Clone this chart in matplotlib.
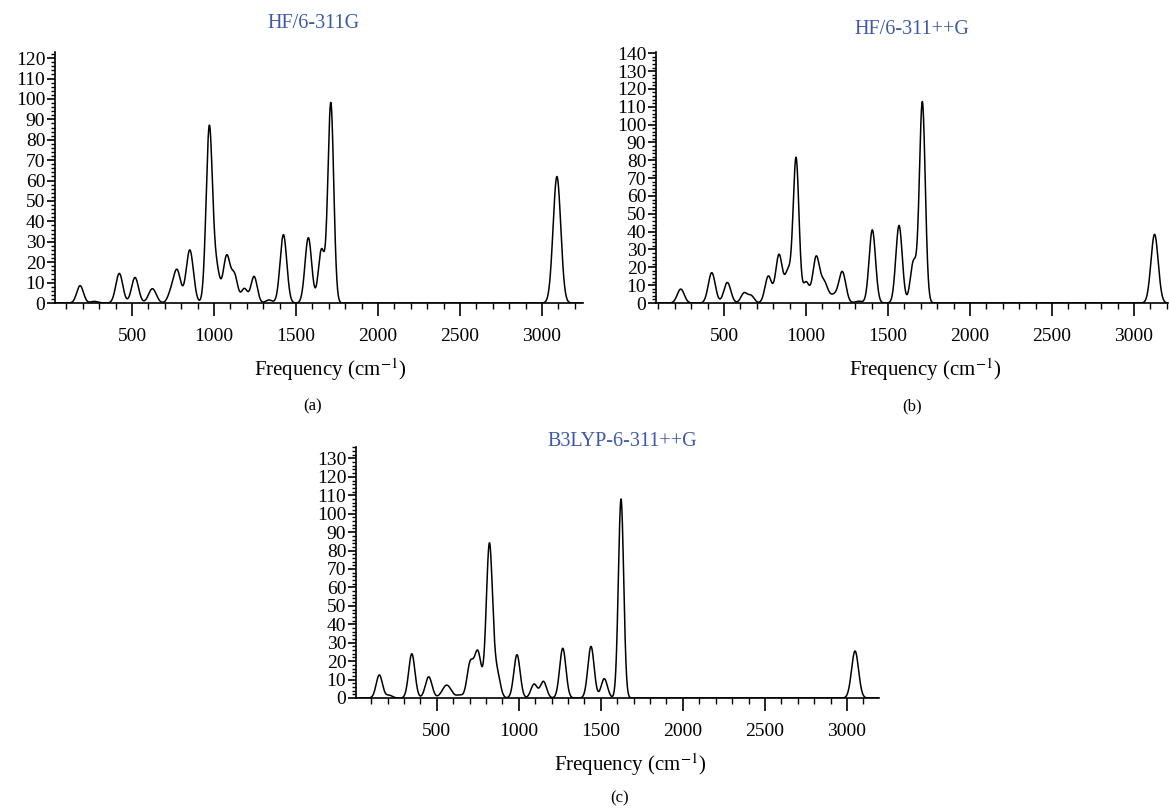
import numpy as np
import matplotlib
matplotlib.use("Agg")
import matplotlib.pyplot as plt
from matplotlib.ticker import MultipleLocator

plt.rcParams['font.family'] = ['Liberation Serif', 'DejaVu Serif']
plt.rcParams['mathtext.fontset'] = 'stix'

# peak positions (cm-1), peak heights and widths (FWHM)
freq_a = [183, 270, 422, 518, 624, 735, 774, 852, 971, 1015, 1077, 1125, 1185, 1244, 1335, 1423, 1575, 1655, 1712, 3091]
inten_a = [8.5, 0.8, 14.5, 12.5, 7, 4, 16, 26, 86, 16, 23, 13, 7, 13, 1.5, 33.5, 32, 26, 98, 62]
width_a = [48, 50, 50, 50, 55, 45, 52, 52, 45, 45, 50, 45, 45, 45, 45, 48, 48, 45, 42, 55]

freq_b = [236, 425, 520, 622, 665, 770, 835, 890, 939, 1000, 1061, 1110, 1170, 1221, 1320, 1404, 1567, 1655, 1709, 3125]
inten_b = [7.8, 17, 11.5, 5.5, 4, 15, 27, 17, 81, 11.5, 25, 11.5, 4, 17.5, 1, 41, 43.5, 23, 112.5, 38.5]
width_b = [50, 50, 50, 45, 45, 48, 48, 45, 42, 45, 48, 55, 50, 50, 50, 46, 46, 45, 42, 52]

freq_c = [150, 210, 348, 451, 561, 640, 703, 750, 821, 868, 989, 1093, 1150, 1268, 1440, 1521, 1623, 3049]
inten_c = [12.5, 1.5, 24, 11.5, 7, 1.5, 18, 25, 83.5, 13, 23.5, 7.5, 9, 27, 28, 10.5, 108, 25.5]
width_c = [45, 45, 45, 48, 65, 45, 45, 50, 45, 45, 45, 45, 45, 45, 45, 45, 38, 50]

titles = ["HF/6-311G", "HF/6-311++G", "B3LYP-6-311++G"]
panel_tags = ["(a)", "(b)", "(c)"]
x_limits = [(30, 3250), (85, 3207), (8, 3195)]
y_limits = [(0, 123), (0, 140.7), (0, 136.2)]
y_ticks_max = [120, 140, 130]

W, H = 1169.0, 808.0
# axes boxes in pixels: left, right, bottom, top
boxes = [(55, 583, 303, 52), (656, 1168, 303, 52), (356, 879, 698, 447)]
title_pos = [(313, 23), (912, 29), (622, 441)]
xlabel_pos = [(330, 370), (925, 370), (630, 765)]
tag_pos = [(313, 406), (912, 406), (620, 798)]

blue = '#3e58aa'


def spectrum(x, freq, inten, width):
    y = np.zeros_like(x)
    for f, a, w in zip(freq, inten, width):
        y += a * np.exp(-4 * np.log(2) * (x - f) ** 2 / w ** 2)
    return y


fig = plt.figure(figsize=(W / 100, H / 100), dpi=100)
data = [(freq_a, inten_a, width_a), (freq_b, inten_b, width_b), (freq_c, inten_c, width_c)]

for i in range(3):
    l, r, b, t = boxes[i]
    ax = fig.add_axes([l / W, 1 - b / H, (r - l) / W, (b - t) / H])
    xs = np.linspace(x_limits[i][0], x_limits[i][1], 4000)
    ax.plot(xs, spectrum(xs, *data[i]), color='black', lw=1.1)
    ax.set_xlim(*x_limits[i])
    ax.set_ylim(*y_limits[i])
    ax.set_xticks([500, 1000, 1500, 2000, 2500, 3000])
    ax.xaxis.set_minor_locator(MultipleLocator(100))
    ax.set_yticks(np.arange(0, y_ticks_max[i] + 1, 10))
    ax.yaxis.set_minor_locator(MultipleLocator(2))
    ax.spines['top'].set_visible(False)
    ax.spines['right'].set_visible(False)
    ax.spines['left'].set_linewidth(1.2)
    ax.spines['bottom'].set_linewidth(1.2)
    ax.tick_params(axis='x', which='major', length=9, width=1.2, labelsize=14, pad=9)
    ax.tick_params(axis='x', which='minor', length=4, width=1.0)
    ax.tick_params(axis='y', which='major', length=6, width=1.2, labelsize=14, pad=1)
    ax.tick_params(axis='y', which='minor', length=3, width=1.0)

    fig.text(title_pos[i][0] / W, 1 - title_pos[i][1] / H, titles[i], color=blue,
             fontsize=14.5, ha='center', va='center')
    fig.text(xlabel_pos[i][0] / W, 1 - xlabel_pos[i][1] / H, 'Frequency (cm$^{-1}$)',
             fontsize=15, ha='center', va='center')
    fig.text(tag_pos[i][0] / W, 1 - tag_pos[i][1] / H, panel_tags[i],
             fontsize=12, ha='center', va='center')

fig.savefig('out.png', dpi=100)
